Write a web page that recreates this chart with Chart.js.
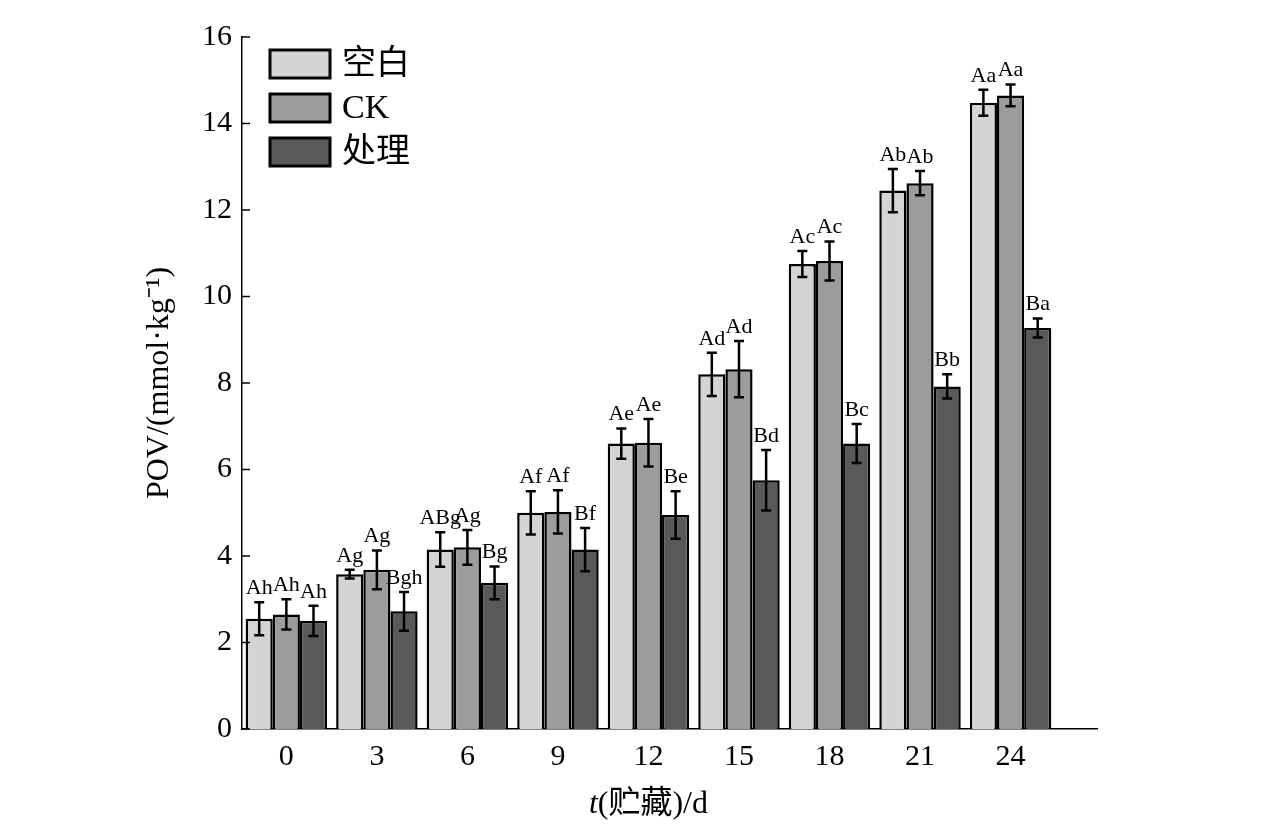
<!DOCTYPE html>
<html lang="zh">
<head>
  <meta charset="UTF-8" />
  <title>POV</title>
  <script src="https://cdn.jsdelivr.net/npm/chart.js"></script>
  <style>
    body { margin: 0; background: #fff; }
    #wrap { width: 1276px; height: 833px; }
  </style>
</head>
<body>
  <div id="wrap"><canvas id="povChart"></canvas></div>
  <script>
    const days = ['0', '3', '6', '9', '12', '15', '18', '21', '24'];
    const seriesNames = ['空白', 'CK', '处理'];
    const blank = [2.55, 3.58, 4.15, 5.0, 6.6, 8.2, 10.75, 12.45, 14.48];
    const ck = [2.65, 3.68, 4.2, 5.02, 6.62, 8.32, 10.82, 12.62, 14.65];
    const treat = [2.5, 2.72, 3.38, 4.15, 4.95, 5.75, 6.6, 7.92, 9.27];
    const blankErr = [0.38, 0.1, 0.4, 0.5, 0.35, 0.5, 0.3, 0.5, 0.3];
    const ckErr = [0.35, 0.45, 0.4, 0.5, 0.55, 0.65, 0.45, 0.28, 0.25];
    const treatErr = [0.35, 0.45, 0.38, 0.5, 0.55, 0.7, 0.45, 0.28, 0.22];
    const blankSig = ['Ah', 'Ag', 'ABg', 'Af', 'Ae', 'Ad', 'Ac', 'Ab', 'Aa'];
    const ckSig = ['Ah', 'Ag', 'Ag', 'Af', 'Ae', 'Ad', 'Ac', 'Ab', 'Aa'];
    const treatSig = ['Ah', 'Bgh', 'Bg', 'Bf', 'Be', 'Bd', 'Bc', 'Bb', 'Ba'];
    const yTicks = [0, 2, 4, 6, 8, 10, 12, 14, 16];

    const colors = ['#d4d4d4', '#9c9c9c', '#595959'];
    const errs = [blankErr, ckErr, treatErr];
    const sigs = [blankSig, ckSig, treatSig];
    const serif = '"Liberation Serif", "Noto Sans CJK SC", serif';

    const extras = {
      id: 'extras',
      afterDatasetsDraw(chart) {
        const ctx = chart.ctx;
        const y = chart.scales.y;
        const area = chart.chartArea;
        ctx.save();
        // error bars + letters
        chart.data.datasets.forEach((ds, di) => {
          chart.getDatasetMeta(di).data.forEach((bar, i) => {
            const v = ds.data[i].y, e = errs[di][i];
            const top = y.getPixelForValue(v + e), bot = y.getPixelForValue(v - e);
            ctx.strokeStyle = '#000'; ctx.lineWidth = 2.5;
            ctx.beginPath();
            ctx.moveTo(bar.x, top); ctx.lineTo(bar.x, bot);
            ctx.moveTo(bar.x - 5, top); ctx.lineTo(bar.x + 5, top);
            ctx.moveTo(bar.x - 5, bot); ctx.lineTo(bar.x + 5, bot);
            ctx.stroke();
            ctx.fillStyle = '#000';
            ctx.font = '22px ' + serif;
            ctx.textAlign = 'center'; ctx.textBaseline = 'bottom';
            ctx.fillText(sigs[di][i], bar.x, top - 3);
          });
        });
        // inward y ticks
        ctx.lineWidth = 1.5;
        yTicks.forEach(t => {
          const py = y.getPixelForValue(t);
          ctx.beginPath(); ctx.moveTo(area.left, py); ctx.lineTo(area.left + 8, py); ctx.stroke();
        });
        // legend
        seriesNames.forEach((n, i) => {
          const by = 50 + i * 44;
          ctx.fillStyle = colors[i];
          ctx.fillRect(270, by, 60, 28);
          ctx.lineWidth = 3; ctx.strokeStyle = '#000';
          ctx.strokeRect(270, by, 60, 28);
          ctx.fillStyle = '#000';
          ctx.font = '34px ' + serif;
          ctx.textAlign = 'left'; ctx.textBaseline = 'middle';
          ctx.fillText(n, 342, by + 15);
        });
        // axis titles
        ctx.textBaseline = 'middle';
        ctx.font = 'italic 32px ' + serif;
        const t1 = 't', t2 = '(贮藏)/d';
        const w1 = ctx.measureText(t1).width;
        ctx.font = '32px ' + serif;
        const w2 = ctx.measureText(t2).width;
        const sx = chart.scales.x.getPixelForValue(4) - (w1 + w2) / 2;
        ctx.textAlign = 'left';
        ctx.font = 'italic 32px ' + serif; ctx.fillText(t1, sx, 805);
        ctx.font = '32px ' + serif; ctx.fillText(t2, sx + w1, 805);
        ctx.translate(160, (area.top + area.bottom) / 2);
        ctx.rotate(-Math.PI / 2);
        ctx.textAlign = 'center';
        ctx.fillText('POV/(mmol·kg⁻¹)', 0, 0);
        ctx.restore();
      }
    };

    new Chart(document.getElementById('povChart'), {
      type: 'bar',
      data: {
        datasets: [blank, ck, treat].map((d, i) => ({
          label: seriesNames[i],
          data: d.map((v, k) => ({ x: k, y: v })),
          backgroundColor: colors[i],
          borderColor: '#000', borderWidth: 2.5,
          categoryPercentage: 0.9, barPercentage: 1
        }))
      },
      options: {
        responsive: true, maintainAspectRatio: false, animation: false,
        layout: { padding: { top: 37, right: 179, left: 0, bottom: 0 } },
        plugins: { legend: { display: false }, tooltip: { enabled: false } },
        scales: {
          x: {
            type: 'linear', min: -0.49, max: 8.955, offset: false,
            grid: { display: false, drawTicks: false },
            border: { color: '#000', width: 1.5 },
            afterBuildTicks(s) { s.ticks = days.map((_, i) => ({ value: i })); },
            ticks: {
              color: '#000', font: { family: serif, size: 30 }, padding: 10,
              callback: v => days[v]
            },
            afterFit(s) { s.height = 104; }
          },
          y: {
            min: 0, max: 16,
            grid: { display: false, drawTicks: false },
            border: { color: '#000', width: 1.5 },
            ticks: { stepSize: 2, color: '#000', font: { family: serif, size: 30 }, padding: 10 },
            afterFit(s) { s.width = 242; }
          }
        }
      },
      plugins: [extras]
    });
  </script>
</body>
</html>
